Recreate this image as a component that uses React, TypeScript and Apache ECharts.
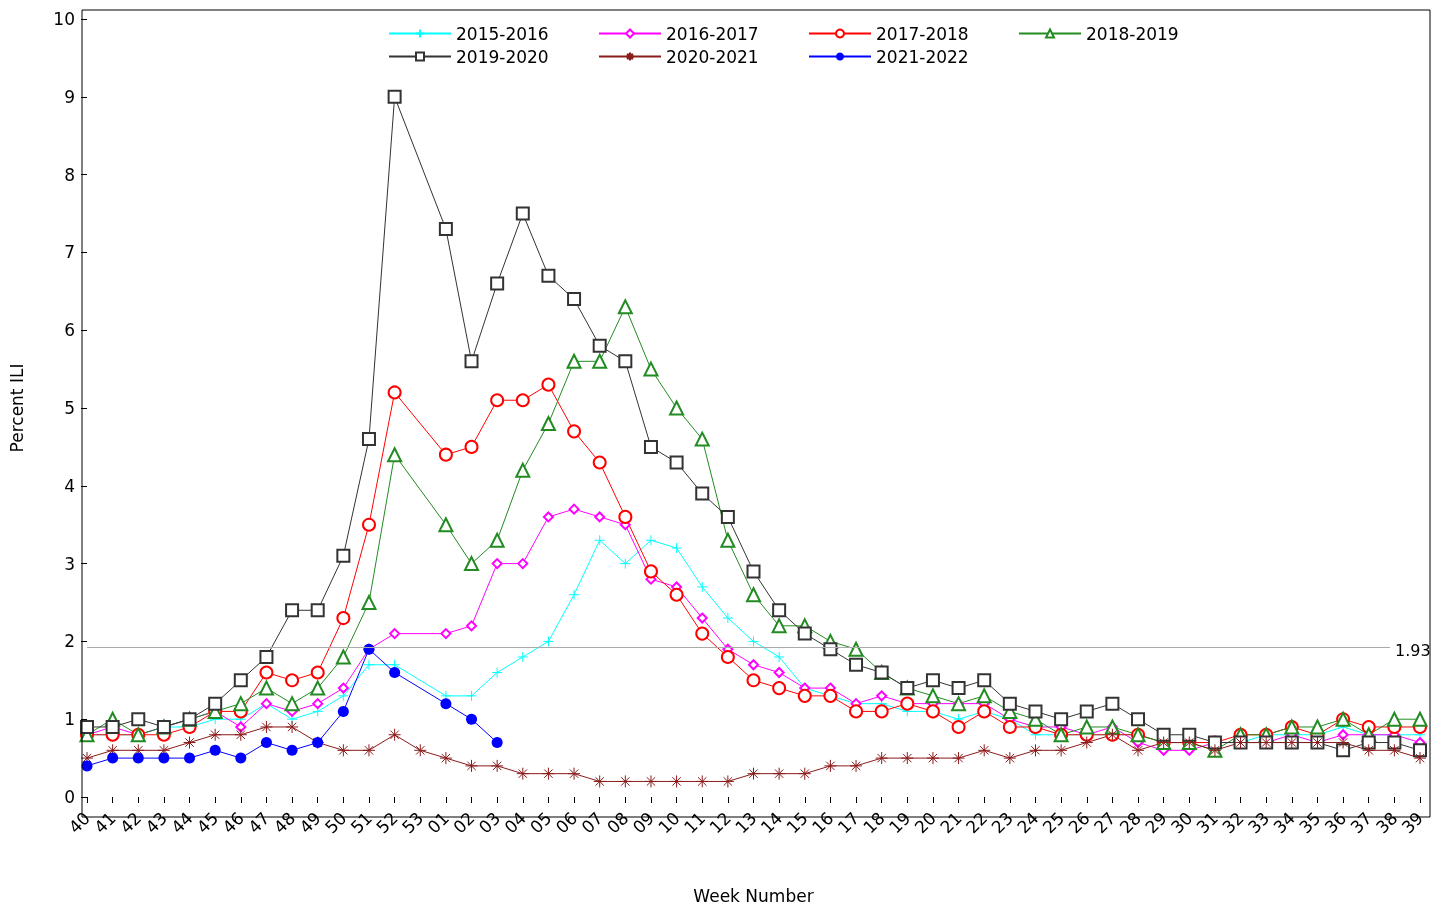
import React, { useEffect, useRef } from "react";
import * as echarts from "echarts";

const weeks = ["40","41","42","43","44","45","46","47","48","49","50","51","52","53","01","02","03","04","05","06","07","08","09","10","11","12","13","14","15","16","17","18","19","20","21","22","23","24","25","26","27","28","29","30","31","32","33","34","35","36","37","38","39"];
const s1516 = [0.8,0.8,0.8,0.9,0.9,1.0,1.0,1.2,1.0,1.1,1.3,1.7,1.7,null,1.3,1.3,1.6,1.8,2.0,2.6,3.3,3.0,3.3,3.2,2.7,2.3,2.0,1.8,1.4,1.3,1.2,1.2,1.1,1.1,1.0,1.1,1.0,0.8,0.8,0.8,0.8,0.8,0.7,0.7,0.7,0.7,0.8,0.8,0.8,0.9,0.8,0.8,0.8];
const s1617 = [0.8,0.9,0.8,0.9,1.0,1.1,0.9,1.2,1.1,1.2,1.4,1.9,2.1,null,2.1,2.2,3.0,3.0,3.6,3.7,3.6,3.5,2.8,2.7,2.3,1.9,1.7,1.6,1.4,1.4,1.2,1.3,1.2,1.2,1.2,1.2,1.0,0.9,0.9,0.8,0.9,0.7,0.6,0.6,0.7,0.7,0.7,0.8,0.7,0.8,0.8,0.8,0.7];
const s1718 = [0.8,0.8,0.8,0.8,0.9,1.1,1.1,1.6,1.5,1.6,2.3,3.5,5.2,null,4.4,4.5,5.1,5.1,5.3,4.7,4.3,3.6,2.9,2.6,2.1,1.8,1.5,1.4,1.3,1.3,1.1,1.1,1.2,1.1,0.9,1.1,0.9,0.9,0.8,0.8,0.8,0.8,0.7,0.7,0.7,0.8,0.8,0.9,0.8,1.0,0.9,0.9,0.9];
const s1819 = [0.8,1.0,0.8,0.9,1.0,1.1,1.2,1.4,1.2,1.4,1.8,2.5,4.4,null,3.5,3.0,3.3,4.2,4.8,5.6,5.6,6.3,5.5,5.0,4.6,3.3,2.6,2.2,2.2,2.0,1.9,1.6,1.4,1.3,1.2,1.3,1.1,1.0,0.8,0.9,0.9,0.8,0.7,0.7,0.6,0.8,0.8,0.9,0.9,1.0,0.8,1.0,1.0];
const s1920 = [0.9,0.9,1.0,0.9,1.0,1.2,1.5,1.8,2.4,2.4,3.1,4.6,9.0,null,7.3,5.6,6.6,7.5,6.7,6.4,5.8,5.6,4.5,4.3,3.9,3.6,2.9,2.4,2.1,1.9,1.7,1.6,1.4,1.5,1.4,1.5,1.2,1.1,1.0,1.1,1.2,1.0,0.8,0.8,0.7,0.7,0.7,0.7,0.7,0.6,0.7,0.7,0.6];
const s2021 = [0.5,0.6,0.6,0.6,0.7,0.8,0.8,0.9,0.9,0.7,0.6,0.6,0.8,0.6,0.5,0.4,0.4,0.3,0.3,0.3,0.2,0.2,0.2,0.2,0.2,0.2,0.3,0.3,0.3,0.4,0.4,0.5,0.5,0.5,0.5,0.6,0.5,0.6,0.6,0.7,0.8,0.6,0.7,0.7,0.6,0.7,0.7,0.7,0.7,0.7,0.6,0.6,0.5];
const s2122 = [0.4,0.5,0.5,0.5,0.5,0.6,0.5,0.7,0.6,0.7,1.1,1.9,1.6,null,1.2,1.0,0.7];
const baseline = 1.93;

const PLUS = "path://M5,0L5,10M0,5L10,5";
const STAR = "path://M5,0L5,10M0,5L10,5M1.5,1.5L8.5,8.5M1.5,8.5L8.5,1.5";

export default function App() {
  const ref = useRef<HTMLDivElement>(null);
  useEffect(() => {
    const chart = echarts.init(ref.current!, null, { renderer: "svg" });
    const mk = (name: string, data: any[], color: string, symbol: string, size: number, filled = false, stroke = false) => ({
      name, type: "line", data, connectNulls: true, symbol, symbolSize: size,
      lineStyle: { color, width: 1 },
      itemStyle: stroke ? { color: "none", borderColor: color, borderWidth: 1 } : filled ? { color } : { color, borderColor: color, borderWidth: 0.8 },
      emphasis: { disabled: true },
    });
    const series: any[] = [
      mk("2015-2016", s1516, "#00ffff", PLUS, 10, false, true),
      mk("2016-2017", s1617, "#ff00ff", "emptyDiamond", 9),
      mk("2017-2018", s1718, "#ff0000", "emptyCircle", 12),
      mk("2018-2019", s1819, "#228b22", "emptyTriangle", 13),
      mk("2019-2020", s1920, "#333333", "emptyRect", 12),
      mk("2020-2021", s2021, "#8b1a1a", STAR, 12, false, true),
      mk("2021-2022", s2122, "#0000ff", "circle", 11, true),
    ];
    series[0].markLine = {
      silent: true, symbol: "none",
      lineStyle: { color: "#aaaaaa", type: "solid", width: 1 },
      label: { show: false },
      data: [[{ coord: ["40", baseline] }, { coord: ["38", baseline], x: 1390 }]],
    };
    chart.setOption({
      animation: false,
      textStyle: { fontFamily: "DejaVu Sans" },
      legend: {
        left: 383, top: 20, width: 860, itemWidth: 62, itemHeight: 10, itemGap: 6,
        textStyle: { fontSize: 17, color: "#000", width: 136, lineHeight: 15 },
        data: series.map(s => s.name),
      },
      grid: { left: 82, right: 22, top: 19, bottom: 76 },
      xAxis: {
        type: "category", data: weeks, boundaryGap: false, offset: 10,
        name: "Week Number", nameLocation: "middle", nameGap: 80,
        nameTextStyle: { fontSize: 17, color: "#000" },
        axisLine: { show: false },
        axisTick: { show: true, alignWithLabel: true, length: 6, lineStyle: { color: "#000" } },
        axisLabel: { rotate: 45, interval: 0, fontSize: 17, color: "#000", margin: 8 },
        splitLine: { show: false },
      },
      yAxis: {
        type: "value", min: 0, max: 10, interval: 1,
        name: "Percent ILI", nameLocation: "middle", nameGap: 62,
        nameTextStyle: { fontSize: 17, color: "#000" },
        axisLine: { show: false },
        axisTick: { show: true, length: 6, lineStyle: { color: "#000" } },
        axisLabel: { fontSize: 17, color: "#000", margin: 12 },
        splitLine: { show: false },
      },
      graphic: [
        { type: "rect", shape: { x: 82, y: 10, width: 1348, height: 807 }, style: { fill: "none", stroke: "#000", lineWidth: 1 }, silent: true, z: 100 },
        { type: "text", x: 1395, y: 642, style: { text: "1.93", fontSize: 16, fill: "#000", fontFamily: "DejaVu Sans" }, silent: true, z: 100 },
      ],
      series,
    });
    return () => chart.dispose();
  }, []);
  return <div ref={ref} style={{ position: "fixed", left: 0, top: 0, width: 1442, height: 909 }} />;
}
